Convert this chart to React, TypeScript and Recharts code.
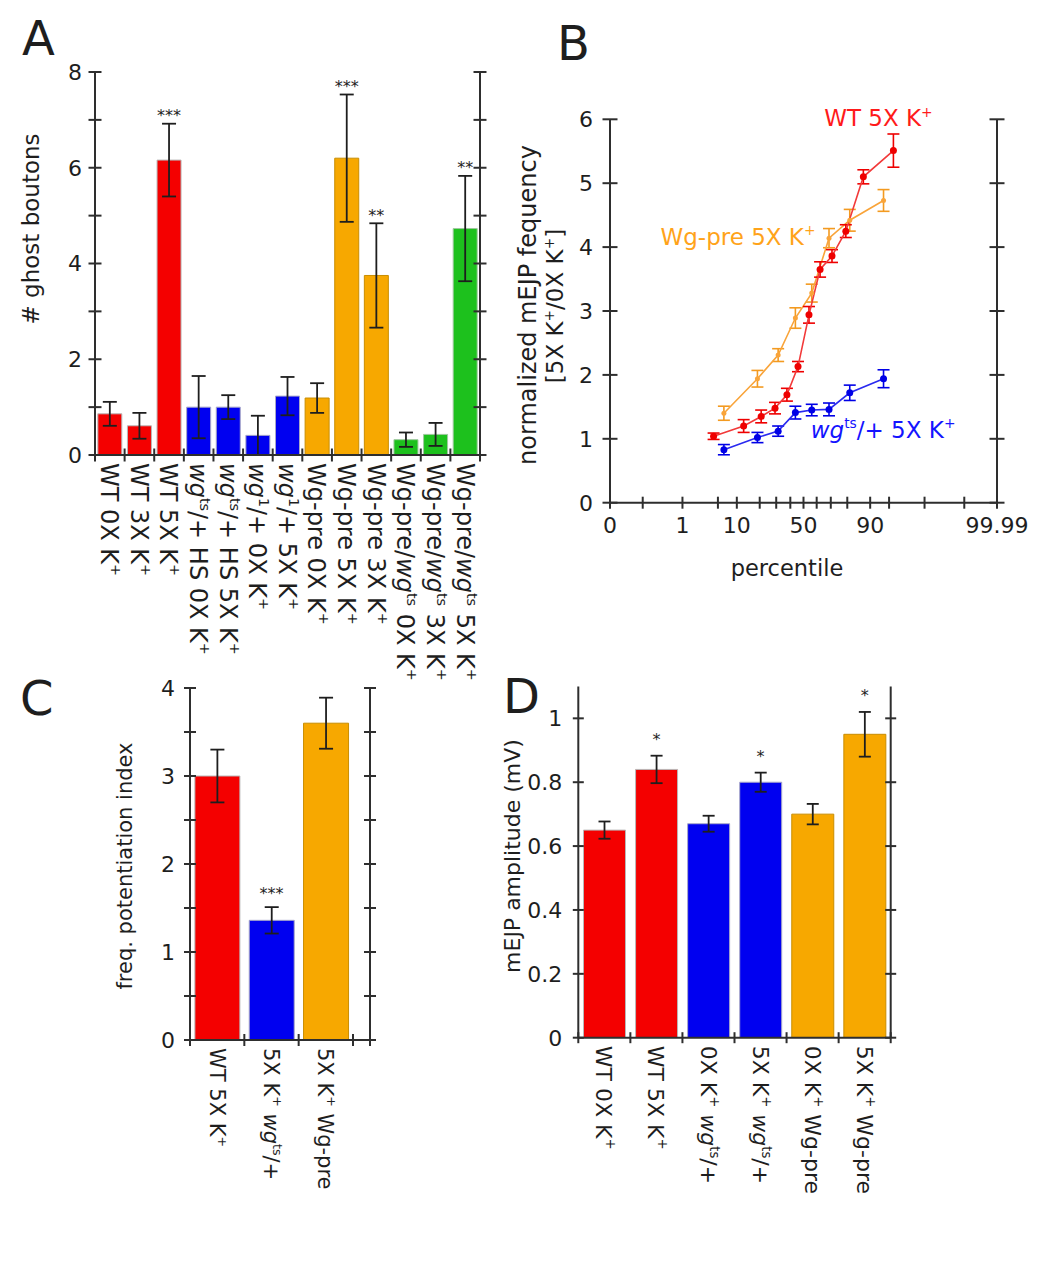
import React from 'react';
import { BarChart, Bar, Cell, ErrorBar, XAxis, YAxis, LineChart, Line, ReferenceDot } from 'recharts';

const FONT = '"DejaVu Sans", Verdana, sans-serif';
const INK = '#1e1e1e';
const AXC = '#2e2e2e';
const RED = '#f40000';
const BLUE = '#0000f0';
const ORANGE = '#f7a800';
const GREEN = '#1dc11d';
const groupColor: Record<string, string> = { wt: RED, ts: BLUE, pre: ORANGE, mix: GREEN };
const groupEdge: Record<string, string> = { wt: '#b8b8b8', ts: '#a8a8c8', pre: '#c98d00', mix: '#9fc89f' };

// markup: _italic_  ^superscript^
// ---- panel A: ghost boutons
const ghostLabels = [
  'WT 0X K^+^', 'WT 3X K^+^', 'WT 5X K^+^',
  '_wg_^ts^/+ HS 0X K^+^', '_wg_^ts^/+ HS 5X K^+^', '_wg_^1^/+ 0X K^+^', '_wg_^1^/+ 5X K^+^',
  'Wg-pre 0X K^+^', 'Wg-pre 5X K^+^', 'Wg-pre 3X K^+^',
  'Wg-pre/_wg_^ts^ 0X K^+^', 'Wg-pre/_wg_^ts^ 3X K^+^', 'Wg-pre/_wg_^ts^ 5X K^+^',
];
const ghostMeans = [0.86, 0.61, 6.16, 1.0, 1.0, 0.41, 1.23, 1.19, 6.2, 3.75, 0.32, 0.43, 4.73];
const ghostErr = [0.25, 0.27, 0.76, 0.65, 0.25, 0.41, 0.4, 0.31, 1.33, 1.09, 0.15, 0.24, 1.1];
const ghostGroup = ['wt', 'wt', 'wt', 'ts', 'ts', 'ts', 'ts', 'pre', 'pre', 'pre', 'mix', 'mix', 'mix'];
const ghostSig = ['', '', '***', '', '', '', '', '', '***', '**', '', '', '**'];
const ghostTicks = [0, 1, 2, 3, 4, 5, 6, 7, 8];
const ghostTickLabels = ['0', '', '2', '', '4', '', '6', '', '8'];

// ---- panel B: cumulative frequency
const wtPct = [4.2, 12.5, 20.8, 29.2, 37.5, 45.8, 54.2, 62.5, 70.8, 79.2, 87.5, 95.8];
const wtFreq = [1.04, 1.2, 1.35, 1.48, 1.69, 2.13, 2.94, 3.65, 3.86, 4.25, 5.1, 5.51];
const wtFreqErr = [0.05, 0.1, 0.1, 0.09, 0.1, 0.08, 0.13, 0.12, 0.1, 0.1, 0.11, 0.26];
const prePct = [6.3, 18.8, 31.3, 43.8, 56.3, 68.8, 81.3, 93.8];
const preFreq = [1.4, 1.94, 2.31, 2.89, 3.28, 4.14, 4.42, 4.73];
const preFreqErr = [0.11, 0.13, 0.1, 0.16, 0.14, 0.15, 0.17, 0.17];
const tsPct = [6.3, 18.8, 31.3, 43.8, 56.3, 68.8, 81.3, 93.8];
const tsFreq = [0.83, 1.02, 1.12, 1.41, 1.45, 1.46, 1.72, 1.94];
const tsFreqErr = [0.08, 0.08, 0.08, 0.1, 0.09, 0.1, 0.12, 0.14];
const pctTicks = [0.01, 0.1, 1, 5, 10, 20, 30, 40, 50, 60, 70, 80, 90, 95, 99, 99.9, 99.99];
const pctTickLabels = ['0', '', '1', '', '10', '', '', '', '50', '', '', '', '90', '', '', '', '99.99'];
const freqTicks = [0, 1, 2, 3, 4, 5, 6];
const freqTickLabels = ['0', '1', '2', '3', '4', '5', '6'];
const freqNotes = [
  { text: 'WT 5X K^+^', pct: 92.5, y: 6.02, color: '#ff1a1a' },
  { text: 'Wg-pre 5X K^+^', pct: 10.4, y: 4.16, color: '#ffa31a' },
  { text: '_wg_^ts^/+ 5X K^+^', pct: 93.7, y: 1.14, color: '#1414ff' },
];

// ---- panel C: potentiation index
const potLabels = ['WT 5X K^+^', '5X K^+^ _wg_^ts^/+', '5X K^+^ Wg-pre'];
const potMeans = [3.0, 1.36, 3.6];
const potErr = [0.3, 0.15, 0.29];
const potGroup = ['wt', 'ts', 'pre'];
const potSig = ['', '***', ''];
const potTicks = [0, 0.5, 1, 1.5, 2, 2.5, 3, 3.5, 4];
const potTickLabels = ['0', '', '1', '', '2', '', '3', '', '4'];

// ---- panel D: mEJP amplitude
const ampLabels = ['WT 0X K^+^', 'WT 5X K^+^', '0X K^+^ _wg_^ts^/+', '5X K^+^ _wg_^ts^/+', '0X K^+^ Wg-pre', '5X K^+^ Wg-pre'];
const ampMeans = [0.65, 0.84, 0.67, 0.8, 0.7, 0.95];
const ampErr = [0.027, 0.043, 0.025, 0.03, 0.032, 0.07];
const ampGroup = ['wt', 'wt', 'ts', 'ts', 'pre', 'pre'];
const ampSig = ['', '*', '', '*', '', '*'];
const ampTicks = [0, 0.2, 0.4, 0.6, 0.8, 1];
const ampTickLabels = ['0', '0.2', '0.4', '0.6', '0.8', '1'];

// inverse normal cdf (Acklam) for the probability axis
function probit(p: number) {
  const a = [-39.69683028665376, 220.9460984245205, -275.9285104469687, 138.357751867269, -30.66479806614716, 2.506628277459239];
  const b = [-54.47609879822406, 161.5858368580409, -155.6989798598866, 66.80131188771972, -13.28068155288572];
  const c = [-0.007784894002430293, -0.3223964580411365, -2.400758277161838, -2.549671348283254, 4.374664141464968, 2.938163982698783];
  const d = [0.007784695709041462, 0.3224671290700398, 2.445134137142996, 3.754408661907416];
  const lo = 0.02425;
  if (p < lo || p > 1 - lo) {
    const q = Math.sqrt(-2 * Math.log(p < lo ? p : 1 - p));
    const v = (((((c[0] * q + c[1]) * q + c[2]) * q + c[3]) * q + c[4]) * q + c[5]) /
      ((((d[0] * q + d[1]) * q + d[2]) * q + d[3]) * q + 1);
    return p < lo ? v : -v;
  }
  const q = p - 0.5;
  const r = q * q;
  return (((((a[0] * r + a[1]) * r + a[2]) * r + a[3]) * r + a[4]) * r + a[5]) * q /
    (((((b[0] * r + b[1]) * r + b[2]) * r + b[3]) * r + b[4]) * r + 1);
}
const zOf = (pct: number) => probit(pct / 100);

function rich(s: string, fs: number) {
  const parts = s.split(/(_[^_]+_|\^[^^]+\^)/).filter(Boolean);
  const out: React.ReactNode[] = [];
  let lift = 0;
  parts.forEach((part, i) => {
    if (part.startsWith('^')) {
      out.push(<tspan key={i} fontSize={fs * 0.6} dy={-fs * 0.42}>{part.slice(1, -1)}</tspan>);
      lift = fs * 0.42;
    } else {
      const it = part.startsWith('_');
      out.push(
        <tspan key={i} dy={lift || undefined} fontStyle={it ? 'italic' : undefined}>
          {it ? part.slice(1, -1) : part}
        </tspan>
      );
      lift = 0;
    }
  });
  return out;
}

const AXIS = { stroke: AXC, strokeWidth: 2 };

const leftTick = (labels: string[], fs: number, gap: number, len: number) => (props: any) => {
  const { x, y, index } = props;
  const t = labels[index] ?? '';
  return (
    <g>
      <line x1={x - len} x2={x + len} y1={y} y2={y} stroke={AXC} strokeWidth={2} />
      {t !== '' && (
        <text x={x - gap} y={y} dy={fs * 0.36} textAnchor="end" fontSize={fs} fontFamily={FONT} fill={INK}>{t}</text>
      )}
    </g>
  );
};

const rightTick = (len: number) => (props: any) => (
  <line x1={props.x - len} x2={props.x + len} y1={props.y} y2={props.y} stroke={AXC} strokeWidth={2} />
);

// category label, plus the crossing tick marks at the category boundaries
const catTick = (fs: number, gap: number, band: number, n: number, len: number, padRight: number) => (props: any) => {
  const { x, y, payload, index } = props;
  const marks = [x - band / 2];
  if (index === n - 1) {
    marks.push(x + band / 2);
    if (padRight > 0) marks.push(x + band / 2 + padRight);
  }
  return (
    <g>
      {marks.map((mx, k) => (
        <line key={k} x1={mx} x2={mx} y1={y - len} y2={y + len} stroke={AXC} strokeWidth={2} />
      ))}
      <g transform={`translate(${x},${y + gap})`}>
        <text transform="rotate(90)" x={0} y={0} dy={fs * 0.36} textAnchor="start" fontSize={fs} fontFamily={FONT} fill={INK}>
          {rich(String(payload.value), fs)}
        </text>
      </g>
    </g>
  );
};

const sigLabel = (txt: string, off: number) => (props: any) => {
  const vb = props.viewBox;
  return (
    <text x={vb.x + vb.width / 2} y={vb.y - off} textAnchor="middle" fontSize={16} fontFamily={FONT} fill={INK}>{txt}</text>
  );
};

type BarPanelProps = {
  labels: string[]; means: number[]; errs: number[]; groups: string[]; sig: string[];
  width: number; height: number;
  margin: { top: number; right: number; bottom: number; left: number };
  yMax: number; yTicks: number[]; yTickLabels: string[];
  labelFont: number; tickGap: number; tickLen: number; sigOffset: number;
  gap: string; padRight: number; xHeight: number; cap: number;
};

const LEFT_W = 60;
const RIGHT_W = 10;

function BarPanel(p: BarPanelProps) {
  const rows = p.labels.map((name, i) => ({ name, v: p.means[i], e: p.errs[i] }));
  const n = rows.length;
  const plotW = p.width - p.margin.left - p.margin.right - LEFT_W - RIGHT_W;
  const band = (plotW - p.padRight) / n;
  return (
    <BarChart width={p.width} height={p.height} data={rows} margin={p.margin} barCategoryGap={p.gap}>
      <XAxis dataKey="name" type="category" height={p.xHeight} axisLine={AXIS}
        tickLine={false} tickSize={0} tickMargin={0} interval={0}
        tick={catTick(p.labelFont, 8, band, n, p.tickLen, p.padRight)} padding={{ left: 0, right: p.padRight }} />
      <YAxis yAxisId="l" domain={[0, p.yMax]} ticks={p.yTicks} allowDataOverflow width={LEFT_W}
        axisLine={AXIS} tickLine={false} tickSize={0} tickMargin={0} interval={0}
        tick={leftTick(p.yTickLabels, 22, p.tickGap, p.tickLen)} />
      <YAxis yAxisId="r" orientation="right" domain={[0, p.yMax]} ticks={p.yTicks} allowDataOverflow width={RIGHT_W}
        axisLine={AXIS} tickLine={false} tickSize={0} tickMargin={0} interval={0} tick={rightTick(p.tickLen)} />
      <Bar yAxisId="l" dataKey="v" isAnimationActive={false} strokeWidth={1}>
        {rows.map((_, i) => (
          <Cell key={i} fill={groupColor[p.groups[i]]} stroke={groupEdge[p.groups[i]]} />
        ))}
        <ErrorBar dataKey="e" width={p.cap} stroke={INK} strokeWidth={1.8} direction="y" />
      </Bar>
      {rows.map((r, i) =>
        p.sig[i] ? (
          <ReferenceDot key={'s' + i} yAxisId="l" x={r.name} y={r.v + r.e} r={0}
            fill="none" stroke="none" ifOverflow="visible" label={sigLabel(p.sig[i], p.sigOffset)} />
        ) : null
      )}
    </BarChart>
  );
}

const noteLabel = (text: string, color: string, fs: number) => (props: any) => {
  const vb = props.viewBox;
  return (
    <text x={vb.x + vb.width / 2} y={vb.y + vb.height / 2} dy={fs * 0.36} textAnchor="middle"
      fontSize={fs} fontFamily={FONT} fill={color}>
      {rich(text, fs)}
    </text>
  );
};

function PanelB() {
  const wt = wtPct.map((p, i) => ({ z: zOf(p), y: wtFreq[i], e: wtFreqErr[i] }));
  const pre = prePct.map((p, i) => ({ z: zOf(p), y: preFreq[i], e: preFreqErr[i] }));
  const ts = tsPct.map((p, i) => ({ z: zOf(p), y: tsFreq[i], e: tsFreqErr[i] }));
  const zMin = zOf(pctTicks[0]);
  const zMax = zOf(pctTicks[pctTicks.length - 1]);
  const pctTick = (props: any) => {
    const { x, y, index } = props;
    const t = pctTickLabels[index];
    return (
      <g>
        <line x1={x} x2={x} y1={y - 6} y2={y + 6} stroke={AXC} strokeWidth={2} />
        {t && <text x={x} y={y + 30} textAnchor="middle" fontSize={22} fontFamily={FONT} fill={INK}>{t}</text>}
      </g>
    );
  };
  return (
    <LineChart width={522} height={560} margin={{ top: 59.3, right: 35, bottom: 57.3, left: 40 }}>
      <XAxis dataKey="z" type="number" domain={[zMin, zMax]} allowDataOverflow ticks={pctTicks.map(zOf)}
        interval={0} height={60} axisLine={AXIS} tickLine={false} tickSize={0} tickMargin={0} tick={pctTick} />
      <YAxis yAxisId="l" domain={[0, 6]} ticks={freqTicks} allowDataOverflow width={50} axisLine={AXIS}
        tickLine={false} tickSize={0} tickMargin={0} interval={0} tick={leftTick(freqTickLabels, 22, 17, 7.5)} />
      <YAxis yAxisId="r" orientation="right" domain={[0, 6]} ticks={freqTicks} allowDataOverflow width={10}
        axisLine={AXIS} tickLine={false} tickSize={0} tickMargin={0} interval={0} tick={rightTick(7.5)} />
      <Line data={pre} dataKey="y" yAxisId="l" type="linear" stroke="#f9a43a" strokeWidth={1.6}
        dot={{ r: 2.5, fill: '#f9a43a', stroke: 'none' }} isAnimationActive={false}>
        <ErrorBar dataKey="e" width={6} stroke="#f39a20" strokeWidth={1.6} direction="y" />
      </Line>
      <Line data={ts} dataKey="y" yAxisId="l" type="linear" stroke="#2a2af0" strokeWidth={1.6}
        dot={{ r: 3.5, fill: '#0000e6', stroke: 'none' }} isAnimationActive={false}>
        <ErrorBar dataKey="e" width={6} stroke="#0000e6" strokeWidth={1.6} direction="y" />
      </Line>
      <Line data={wt} dataKey="y" yAxisId="l" type="linear" stroke="#f23a3a" strokeWidth={1.6}
        dot={{ r: 3.5, fill: '#ee0000', stroke: 'none' }} isAnimationActive={false}>
        <ErrorBar dataKey="e" width={6} stroke="#ee0000" strokeWidth={1.6} direction="y" />
      </Line>
      {freqNotes.map((n, i) => (
        <ReferenceDot key={i} yAxisId="l" x={zOf(n.pct)} y={n.y} r={0} fill="none" stroke="none"
          ifOverflow="visible" label={noteLabel(n.text, n.color, 23)} />
      ))}
    </LineChart>
  );
}

function VTitle({ cx, cy, fs, children }: { cx: number; cy: number; fs: number; children: React.ReactNode }) {
  return (
    <text transform={`rotate(-90 ${cx} ${cy})`} x={cx} y={cy} dy={fs * 0.28} textAnchor="middle"
      fontSize={fs} fontFamily={FONT} fill={INK}>
      {children}
    </text>
  );
}

export default function App() {
  return (
    <div style={{ position: 'absolute', left: 0, top: 0, width: 1042, height: 1263, background: '#fff' }}>
      <div style={{ position: 'absolute', left: 0, top: 0 }}>
        <BarPanel labels={ghostLabels} means={ghostMeans} errs={ghostErr} groups={ghostGroup} sig={ghostSig}
          width={520} height={700} margin={{ top: 72, right: 30, bottom: 5, left: 35 }}
          yMax={8} yTicks={ghostTicks} yTickLabels={ghostTickLabels} labelFont={24} tickGap={13} tickLen={6.5}
          sigOffset={2.5} gap="9.5%" padRight={0} xHeight={240} cap={7} />
      </div>
      <div style={{ position: 'absolute', left: 520, top: 60 }}>
        <PanelB />
      </div>
      <div style={{ position: 'absolute', left: 0, top: 640 }}>
        <BarPanel labels={potLabels} means={potMeans} errs={potErr} groups={potGroup} sig={potSig}
          width={400} height={620} margin={{ top: 48, right: 20, bottom: 10, left: 130 }}
          yMax={4} yTicks={potTicks} yTickLabels={potTickLabels} labelFont={21} tickGap={15} tickLen={6}
          sigOffset={8.5} gap="9%" padRight={17} xHeight={210} cap={7} />
      </div>
      <div style={{ position: 'absolute', left: 400, top: 640 }}>
        <BarPanel labels={ampLabels} means={ampMeans} errs={ampErr} groups={ampGroup} sig={ampSig}
          width={642} height={620} margin={{ top: 46.4, right: 141.3, bottom: 12.3, left: 118.3 }}
          yMax={1.1} yTicks={ampTicks} yTickLabels={ampTickLabels} labelFont={22} tickGap={16} tickLen={5.5}
          sigOffset={11} gap="10%" padRight={0} xHeight={210} cap={6} />
      </div>
      <svg width={1042} height={1263} style={{ position: 'absolute', left: 0, top: 0, pointerEvents: 'none' }}>
        <g fontFamily={FONT} fill={INK} fontSize={48}>
          <text x={22} y={55}>A</text>
          <text x={557} y={60}>B</text>
          <text x={20} y={715}>C</text>
          <text x={503} y={713}>D</text>
        </g>
        <VTitle cx={32.5} cy={229} fs={23}># ghost boutons</VTitle>
        <VTitle cx={529.5} cy={305} fs={24}>normalized mEJP fequency</VTitle>
        <VTitle cx={557} cy={306} fs={23}>{rich('[5X K^+^/0X K^+^]', 23)}</VTitle>
        <VTitle cx={126} cy={866} fs={21}>freq. potentiation index</VTitle>
        <VTitle cx={513.5} cy={856} fs={22}>mEJP amplitude (mV)</VTitle>
        <text x={787} y={576} textAnchor="middle" fontSize={22.5} fontFamily={FONT} fill={INK}>percentile</text>
      </svg>
    </div>
  );
}
